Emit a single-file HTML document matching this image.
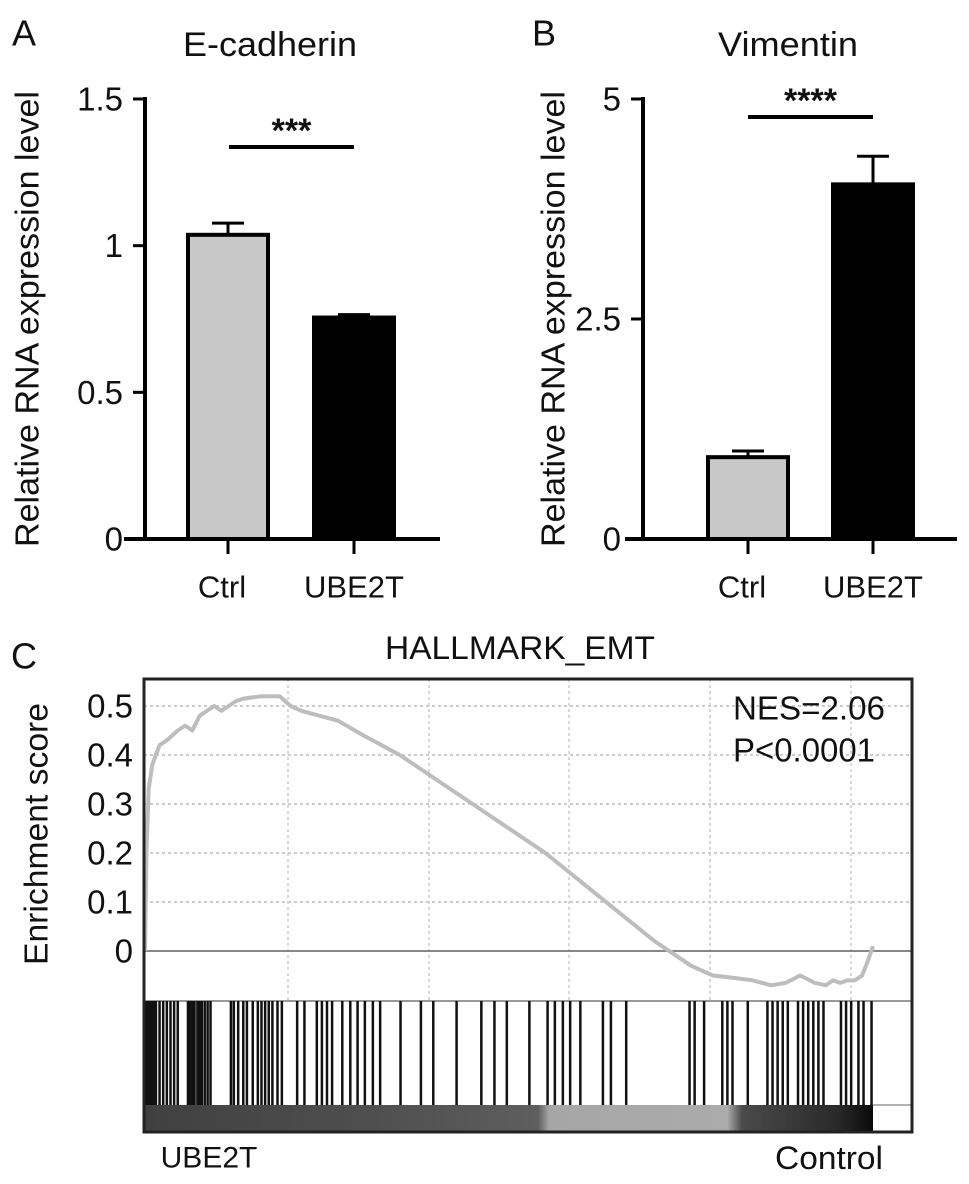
<!DOCTYPE html>
<html><head><meta charset="utf-8"><style>
html,body{margin:0;padding:0;background:#fff;}
svg{display:block;font-family:"Liberation Sans",sans-serif;}
</style></head><body>
<svg id="fig" width="969" height="1184" viewBox="0 0 969 1184"></svg>
<script>
// Panel A data
const aCats = ["Ctrl","UBE2T"];
const aVals = [1.037, 0.755];
const aErr = [0.04, 0.01];
const aTicks = [0, 0.5, 1, 1.5];
const aTickLabels = ["0","0.5","1","1.5"];
// Panel B data
const bCats = ["Ctrl","UBE2T"];
const bVals = [0.93, 4.03];
const bErr = [0.07, 0.32];
const bTicks = [0, 2.5, 5];
const bTickLabels = ["0","2.5","5"];
// Panel C data
const esTicks = [0, 0.1, 0.2, 0.3, 0.4, 0.5];
const esTickLabels = ["0","0.1","0.2","0.3","0.4","0.5"];
const esRank = [0,2,5,10,15,20,30,45,55,65,75,85,95,105,125,135,160,185,200,215,265,300,350,400,450,500,550,600,650,700,750,780,810,835,860,880,900,920,935,945,955,965,975,985,993,1000];
const esVals = [0,0.2,0.33,0.38,0.40,0.42,0.43,0.45,0.46,0.45,0.48,0.49,0.50,0.49,0.51,0.515,0.52,0.52,0.50,0.49,0.47,0.44,0.40,0.35,0.30,0.25,0.20,0.14,0.08,0.02,-0.03,-0.05,-0.055,-0.06,-0.07,-0.065,-0.05,-0.065,-0.07,-0.06,-0.065,-0.06,-0.06,-0.05,-0.02,0.01];
const hitRanks = [0,3,6,9,12,15,20,25,30,35,40,45,59,62,65,68,72,75,78,82,86,90,118,122,128,135,140,148,155,160,165,170,175,182,188,209,219,236,243,250,257,271,282,292,302,313,323,351,379,396,428,462,480,497,528,553,563,574,584,598,629,640,661,748,755,768,793,800,807,828,855,862,869,876,883,897,904,911,918,925,932,956,963,970,980,987,998];

const NS="http://www.w3.org/2000/svg";
const svg=document.getElementById('fig');
function mk(tag,attrs,parent){const e=document.createElementNS(NS,tag);for(const k in attrs)e.setAttribute(k,attrs[k]);(parent||svg).appendChild(e);return e;}
function txt(s,x,y,size,anchor,parent,extra){const t=mk('text',Object.assign({x:x,y:y,'font-size':size,'text-anchor':anchor||'middle','dominant-baseline':'central',fill:'#111'},extra||{}),parent);t.textContent=s;return t;}

function barPanel(o){
  const g=mk('g',{});
  
  
  const y=v=>o.y0-(v/o.max)*(o.y0-o.yTop);
  const l=txt(o.letter,o.letterX,33,36,'middle',g);
  
  const t=txt(o.title,o.titleX,45,34,'middle',g,{'textLength':o.titleLen,'lengthAdjust':'spacingAndGlyphs'});
  
  const yt=txt('Relative RNA expression level',0,0,33,'middle',g,{transform:`translate(${o.ytX},319) rotate(-90)`,'textLength':456,'lengthAdjust':'spacingAndGlyphs'});
  
  o.cats.forEach((c,i)=>{
    const cx=o.bx[i];
    const top=y(o.vals[i]), et=y(o.vals[i]+o.err[i]);
    const el=mk('line',{x1:cx,x2:cx,y1:top,y2:et,stroke:'#000','stroke-width':3},g);
    
    const cap=mk('line',{x1:cx-16,x2:cx+16,y1:et,y2:et,stroke:'#000','stroke-width':3},g);
    
    const r=mk('rect',{x:cx-o.bw/2,y:top,width:o.bw,height:o.y0-top,fill:i==0?'#c8c8c8':'#000',stroke:'#000','stroke-width':4},g);
    
    mk('line',{x1:cx,x2:cx,y1:o.y0,y2:o.y0+15,stroke:'#000','stroke-width':3},g);
    const xl=txt(c,cx-(i==0?6:0),587,31,'middle',g);
    
  });
  const ax=mk('line',{x1:o.axX,x2:o.axX,y1:o.yTop-2,y2:o.y0+2,stroke:'#000','stroke-width':4},g);
  
  const xa=mk('line',{x1:o.xaL,x2:o.xaR,y1:o.y0,y2:o.y0,stroke:'#000','stroke-width':4},g);
  
  o.ticks.forEach((v,i)=>{
    mk('line',{x1:o.axX-12,x2:o.axX,y1:y(v),y2:y(v),stroke:'#000','stroke-width':3},g);
    const tl=txt(o.tickLabels[i],o.axX-22,y(v),33,'end',g);
    
  });
  const sb=mk('line',{x1:o.sig[0],x2:o.sig[1],y1:o.sigY,y2:o.sigY,stroke:'#000','stroke-width':4},g);
  
  const st=txt(o.stars,(o.sig[0]+o.sig[1])/2,o.sigY-16,34,'middle',g,{'font-weight':'bold'});
  
}
barPanel({name:'panel-a-ecadherin',letter:'A',letterX:24,title:'E-cadherin',titleX:270,titleLen:174,ytX:27,cats:aCats,vals:aVals,err:aErr,ticks:aTicks,tickLabels:aTickLabels,max:1.5,y0:539,yTop:99,axX:145,xaL:124,xaR:440,bx:[228,354],bw:80,sig:[229,354],sigY:147,stars:'***'});
barPanel({name:'panel-b-vimentin',letter:'B',letterX:544,title:'Vimentin',titleX:788,titleLen:140,ytX:553,cats:bCats,vals:bVals,err:bErr,ticks:bTicks,tickLabels:bTickLabels,max:5,y0:539,yTop:99,axX:643,xaL:625,xaR:957,bx:[748,873],bw:80,sig:[748,873],sigY:117,stars:'****'});

// Panel C
const gc=mk('g',{});


const L=144,R=912,T=679,D=1001,S=1105,B=1132,X0=145,X1=873,Y0=951,PER=490;
const xr=r=>X0+(r/1000)*(X1-X0);
const ye=v=>Y0-v*PER;
const cl=txt('C',24,656,36,'middle',gc);
const ct=txt('HALLMARK_EMT',520,648,32,'middle',gc,{'textLength':270,'lengthAdjust':'spacingAndGlyphs'});
const cy=txt('Enrichment score',0,0,33,'middle',gc,{transform:'translate(36,834) rotate(-90)','textLength':262,'lengthAdjust':'spacingAndGlyphs'});
esTicks.forEach((v,i)=>{
  if(v>0){const gl=mk('line',{x1:L,x2:R,y1:ye(v),y2:ye(v),stroke:'#bbb','stroke-width':1.5,'stroke-dasharray':'3,3'},gc);
  }
  const tl=txt(esTickLabels[i],133,ye(v),33,'end',gc);
});
[288,429,569,710,851].forEach(x=>{mk('line',{x1:x,x2:x,y1:T,y2:D,stroke:'#ccc','stroke-width':1.5,'stroke-dasharray':'3,3'},gc);});
const zl=mk('line',{x1:L,x2:R,y1:Y0,y2:Y0,stroke:'#888','stroke-width':2},gc);
const es=mk('polyline',{points:esRank.map((r,i)=>xr(r)+','+ye(esVals[i])).join(' '),fill:'none',stroke:'#bdbdbd','stroke-width':4,'stroke-linejoin':'round'},gc);

const dv=mk('line',{x1:L,x2:R,y1:D,y2:D,stroke:'#999','stroke-width':2},gc);
const defs=mk('defs',{});
const lg=mk('linearGradient',{id:'rk',x1:0,x2:1,y1:0,y2:0},defs);
[[0,'#404040'],[0.3,'#4e4e4e'],[0.54,'#5e5e5e'],[0.555,'#a6a6a6'],[0.8,'#ababab'],[0.82,'#4a4a4a'],[0.95,'#2a2a2a'],[1,'#0a0a0a']].forEach(s=>mk('stop',{offset:s[0],'stop-color':s[1]},lg));
const rs=mk('rect',{x:X0,y:S,width:X1-X0,height:B-S,fill:'url(#rk)'},gc);
mk('line',{x1:X1,x2:R,y1:S,y2:S,stroke:'#999','stroke-width':1.5},gc);
hitRanks.forEach(r=>{
  const h=mk('line',{x1:xr(r),x2:xr(r),y1:D,y2:S,stroke:'#111','stroke-width':2.5},gc);
  
});
const bx=mk('rect',{x:L,y:T,width:R-L,height:B-T,fill:'none',stroke:'#222','stroke-width':3},gc);
const n1=txt('NES=2.06',733,708,33,'start',gc,{'textLength':152,'lengthAdjust':'spacingAndGlyphs'});
const n2=txt('P<0.0001',733,750,33,'start',gc,{'textLength':142,'lengthAdjust':'spacingAndGlyphs'});
const u=txt('UBE2T',209,1158,30,'middle',gc);
const c2=txt('Control',829,1158,32,'middle',gc,{'textLength':108,'lengthAdjust':'spacingAndGlyphs'});
</script>
</body></html>
